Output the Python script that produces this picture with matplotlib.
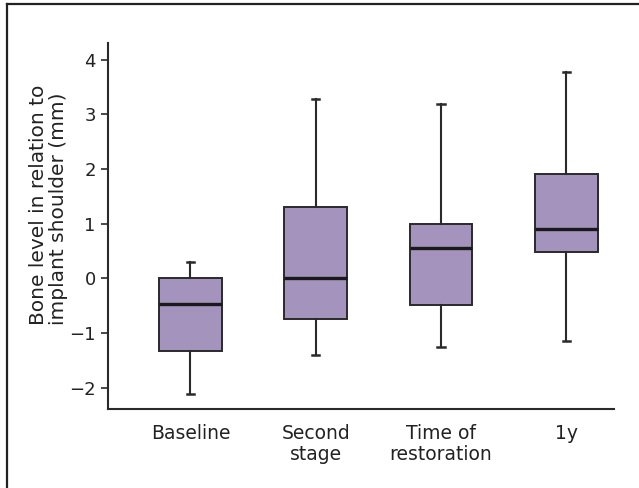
import matplotlib.pyplot as plt
from matplotlib.lines import Line2D

plt.rcParams['font.family'] = ['DejaVu Sans']

# box statistics (mm)
labels = ["Baseline", "Second\nstage", "Time of\nrestoration", "1y"]
whislo = [-2.12, -1.40, -1.25, -1.15]
q1 = [-1.33, -0.74, -0.49, 0.49]
med = [-0.47, 0.01, 0.56, 0.90]
q3 = [0.0, 1.31, 1.0, 1.91]
whishi = [0.30, 3.28, 3.19, 3.77]

stats = []
for i in range(len(labels)):
    stats.append({'label': labels[i], 'whislo': whislo[i], 'q1': q1[i], 'med': med[i],
                  'q3': q3[i], 'whishi': whishi[i], 'fliers': []})

fig = plt.figure(figsize=(6.39, 4.88), dpi=100)
ax = fig.add_axes([0.1695, 0.1619, 0.7909, 0.7494])

edge = '#2a2a2a'
ax.bxp(stats, positions=[1, 2, 3, 4], widths=0.5, patch_artist=True, showfliers=False,
       capwidths=0.06,
       boxprops=dict(facecolor='#a393bd', edgecolor=edge, linewidth=1.4),
       medianprops=dict(color='#1a1a1a', linewidth=2.4),
       whiskerprops=dict(color=edge, linewidth=1.5),
       capprops=dict(color=edge, linewidth=1.8))

ax.set_xlim(0.345, 4.378)
ax.set_ylim(-2.39, 4.30)
ax.set_yticks([-2, -1, 0, 1, 2, 3, 4])
ax.spines['top'].set_visible(False)
ax.spines['right'].set_visible(False)
for s in ['left', 'bottom']:
    ax.spines[s].set_linewidth(1.5)
    ax.spines[s].set_color(edge)
ax.tick_params(axis='y', length=5, width=1.2, color=edge, labelsize=13, pad=4)
ax.tick_params(axis='x', length=0, labelsize=13.5, pad=11)
for t in ax.get_yticklabels() + ax.get_xticklabels():
    t.set_color('#222222')
for t in ax.get_xticklabels():
    t.set_linespacing(1.1)

fig.text(0.076, 0.58, "Bone level in relation to\nimplant shoulder (mm)", rotation=90,
         ha='center', va='center', multialignment='left', fontsize=14.5, linespacing=1.05,
         color='#222222')

# frame lines (left and top only)
fig.add_artist(Line2D([7 / 639, 7 / 639], [0, 1 - 4 / 488], transform=fig.transFigure,
                      color='#222222', linewidth=1.6))
fig.add_artist(Line2D([7 / 639, 1], [1 - 4 / 488, 1 - 4 / 488], transform=fig.transFigure,
                      color='#222222', linewidth=1.6))

fig.savefig('out.png', dpi=100)
